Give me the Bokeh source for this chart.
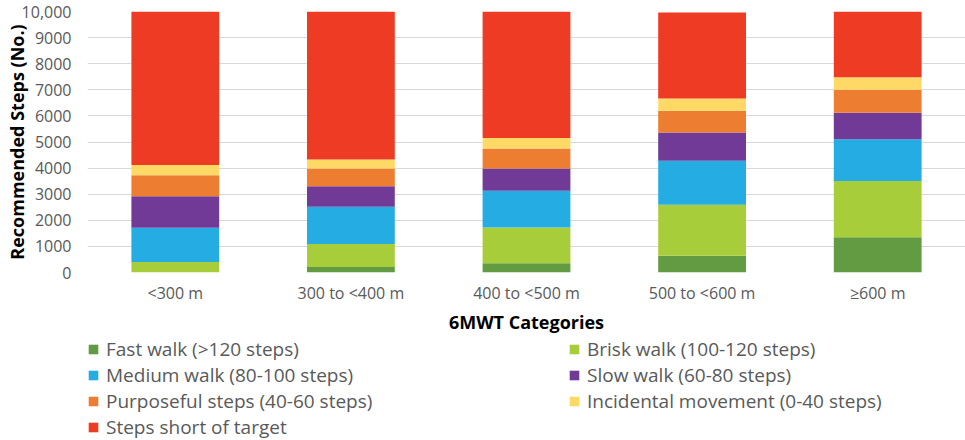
from bokeh.plotting import figure
from bokeh.layouts import column
from bokeh.models import ColumnDataSource, FixedTicker, Legend, LegendItem, FactorRange, Range1d
from bokeh.embed import file_html
from bokeh.resources import INLINE

# ---- data ----
categories = ["<300 m", "300 to <400 m", "400 to <500 m", "500 to <600 m", "\u2265600 m"]
fast_walk = [0, 214, 353, 642, 1348]
brisk_walk = [403, 882, 1372, 1952, 2153]
medium_walk = [1310, 1423, 1411, 1688, 1600]
slow_walk = [1209, 781, 844, 1083, 1020]
purposeful_steps = [806, 680, 768, 831, 882]
incidental_movement = [390, 352, 403, 466, 478]
steps_short = [5882, 5668, 4849, 3300, 2519]

series_labels = [
    "Fast walk (>120 steps)",
    "Brisk walk (100-120 steps)",
    "Medium walk (80-100 steps)",
    "Slow walk (60-80 steps)",
    "Purposeful steps (40-60 steps)",
    "Incidental movement (0-40 steps)",
    "Steps short of target",
]
series_colors = ["#629B41", "#A8CD3A", "#25ACE2", "#703A96", "#ED7D31", "#FFD966", "#EE3B24"]

y_ticks = [0, 1000, 2000, 3000, 4000, 5000, 6000, 7000, 8000, 9000, 10000]
y_tick_labels = ["0", "1000", "2000", "3000", "4000", "5000", "6000", "7000", "8000", "9000", "10,000"]

x_title = "6MWT Categories"
y_title = "Recommended Steps (No.)"

FONT = "Open Sans"

keys = ["fast", "brisk", "medium", "slow", "purposeful", "incidental", "short"]
source = ColumnDataSource(data=dict(
    cat=categories,
    fast=fast_walk,
    brisk=brisk_walk,
    medium=medium_walk,
    slow=slow_walk,
    purposeful=purposeful_steps,
    incidental=incidental_movement,
    short=steps_short,
))

# ---------------- main chart ----------------
p = figure(
    x_range=FactorRange(*categories, range_padding=0),
    y_range=Range1d(0, 10000),
    width=965, height=336,
    output_backend="svg", toolbar_location=None,
    min_border_left=86, min_border_right=0, min_border_top=11, min_border_bottom=64,
)
p.outline_line_color = None
p.background_fill_color = "white"

renderers = p.vbar_stack(keys, x="cat", width=0.5, color=series_colors, source=source, line_color=None)

p.xgrid.grid_line_color = None
p.ygrid.grid_line_color = "#D9D9D9"
p.ygrid.grid_line_width = 1

p.yaxis.ticker = FixedTicker(ticks=y_ticks)
p.yaxis.major_label_overrides = dict(zip(y_ticks, y_tick_labels))
p.yaxis.axis_line_color = None
p.yaxis.major_tick_line_color = None
p.yaxis.minor_tick_line_color = None
p.yaxis.major_label_standoff = 10
p.yaxis.major_label_text_font = FONT
p.yaxis.major_label_text_font_size = "16px"
p.yaxis.major_label_text_color = "#595959"
p.yaxis.axis_label = y_title
p.yaxis.axis_label_text_font = FONT
p.yaxis.axis_label_text_font_style = "bold"
p.yaxis.axis_label_text_font_size = "18px"
p.yaxis.axis_label_text_color = "#000000"
p.yaxis.axis_label_standoff = -10

p.xaxis.axis_line_color = None
p.xaxis.major_tick_line_color = None
p.xaxis.minor_tick_line_color = None
p.xaxis.major_label_standoff = 3
p.xaxis.major_label_text_font = FONT
p.xaxis.major_label_text_font_size = "16px"
p.xaxis.major_label_text_color = "#595959"
p.xaxis.axis_label = x_title
p.xaxis.axis_label_text_font = FONT
p.xaxis.axis_label_text_font_style = "bold"
p.xaxis.axis_label_text_font_size = "18px"
p.xaxis.axis_label_text_color = "#000000"
p.xaxis.axis_label_standoff = 3

# ---------------- legend strip ----------------
lg = figure(
    x_range=FactorRange(*categories, range_padding=0),
    y_range=Range1d(0, 1),
    width=965, height=104,
    output_backend="svg", toolbar_location=None,
    x_axis_location=None, y_axis_location=None,
    min_border_left=87, min_border_right=0, min_border_top=0, min_border_bottom=0,
)
lg.outline_line_color = None
lg.xgrid.grid_line_color = None
lg.ygrid.grid_line_color = None
legend_renderers = lg.vbar_stack(keys, x="cat", width=0.5, color=series_colors, source=source,
                                 line_color=None, visible=False)

legend = Legend(
    items=[LegendItem(label=lab, renderers=[r]) for lab, r in zip(series_labels, legend_renderers)],
    orientation="horizontal", ncols=2,
    location="top_left",
    glyph_width=12, glyph_height=12, label_standoff=7,
    label_width=462, spacing=0, padding=0, margin=0,
    border_line_color=None, background_fill_alpha=0,
    label_text_font=FONT, label_text_font_size="19px", label_text_color="#595959",
)
lg.add_layout(legend, "center")

layout = column(p, lg, spacing=0)
open("out.html", "w").write(file_html(layout, INLINE))
